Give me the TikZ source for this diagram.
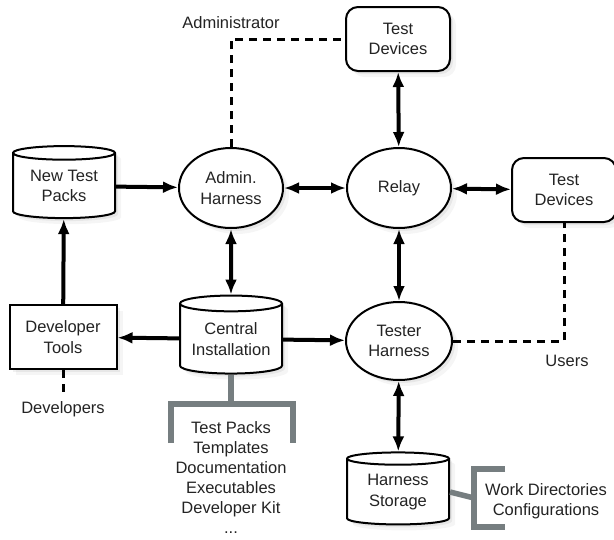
\documentclass[tikz,border=0pt]{standalone}
\usepackage{fontspec}
\setmainfont{Liberation Sans}
\usetikzlibrary{shapes.geometric,arrows.meta,shadows}
\definecolor{txtgray}{RGB}{35,35,35}
\definecolor{brgray}{RGB}{118,126,128}

\begin{document}
\begin{tikzpicture}[x=1pt,y=-1pt,>={Latex[length=15pt,width=12pt]},
  font=\fontsize{16.5}{20.5}\selectfont,
  softshadow/.style={drop shadow={opacity=0.08,shadow xshift=6pt,shadow yshift=-6pt},
    drop shadow={opacity=0.12,shadow xshift=3pt,shadow yshift=-3pt}},
  store/.style={cylinder,shape border rotate=90,aspect=0.2,draw=black,line width=2pt,
    fill=white,text=txtgray,minimum width=102pt,minimum height=72pt,align=center,inner sep=0pt,softshadow},
  proc/.style={ellipse,draw=black,line width=2pt,fill=white,text=txtgray,
    minimum width=104pt,minimum height=80pt,align=center,inner sep=0pt,softshadow},
  device/.style={rectangle,rounded corners=12pt,draw=black,line width=2pt,fill=white,text=txtgray,
    minimum width=104pt,minimum height=64pt,align=center,softshadow},
  tool/.style={rectangle,draw=black,line width=2pt,fill=white,text=txtgray,
    minimum width=107pt,minimum height=64pt,align=center,softshadow},
  link/.style={<->,line width=4pt},
  flow/.style={->,line width=4pt},
  role/.style={dash pattern=on 8pt off 6pt,line width=3pt},
  bracket/.style={draw=brgray,line width=5.5pt},
  lbl/.style={text=txtgray,align=center,inner sep=0pt}]
\useasboundingbox (0,0) rectangle (614,539);

% nodes
\node (ntp) at (64,186)[store]{New Test\\Packs};
\node (ah) at (231,188)[proc]{Admin.\\Harness};
\node (rl) at (399,188)[proc]{Relay};
\node (tdt) at (398,39)[device]{Test\\Devices};
\node (tdr) at (564,190)[device]{Test\\Devices};
\node (dt) at (63,337)[tool]{Developer\\Tools};
\node (ci) at (231,339)[store,minimum height=78pt]{Central\\Installation};
\node (th) at (399,341)[proc,minimum width=106pt,minimum height=78pt]{Tester\\Harness};
\node (hs) at (398,492)[store]{Harness\\Storage};

% labels
\node (adm) at (231,28)[lbl,anchor=base]{Administrator};
\node (usr) at (567,366)[lbl,anchor=base]{Users};
\node (dev) at (63,413)[lbl,anchor=base]{Developers};
\node (cil) at (231,421)[lbl,anchor=north,font=\fontsize{16.5}{20}\selectfont]{Test Packs\\Templates\\Documentation\\Executables\\Developer Kit\\...};
\node (hsl) at (546,483)[lbl,anchor=north]{Work Directories\\Configurations};

% arrows
\draw[flow](ntp)--(ah);
\draw[link](ah)--(rl);
\draw[link](rl)--(tdr);
\draw[link](tdt)--(rl);
\draw[link](rl)--(th);
\draw[link](ah)--(ci);
\draw[flow](ci)--(dt);
\draw[flow](ci)--(th);
\draw[link](th)--(hs);
\draw[flow](dt)--(ntp);

% roles
\draw[role](ah.north)|-(tdt.west);
\draw[role](th.east)-|(tdr.south);
\draw[role](dt.south)--++(0,27);

% brackets
\coordinate (cb) at (231,404);
\coordinate (hb) at (474,498);
\draw[bracket](ci.south)--(cb);
\draw[bracket](171,443)--(171,404)--(293,404)--(293,443);
\draw[bracket](hs.east)--(hb);
\draw[bracket](505,469)--(474,469)--(474,527)--(505,527);
\end{tikzpicture}
\end{document}
